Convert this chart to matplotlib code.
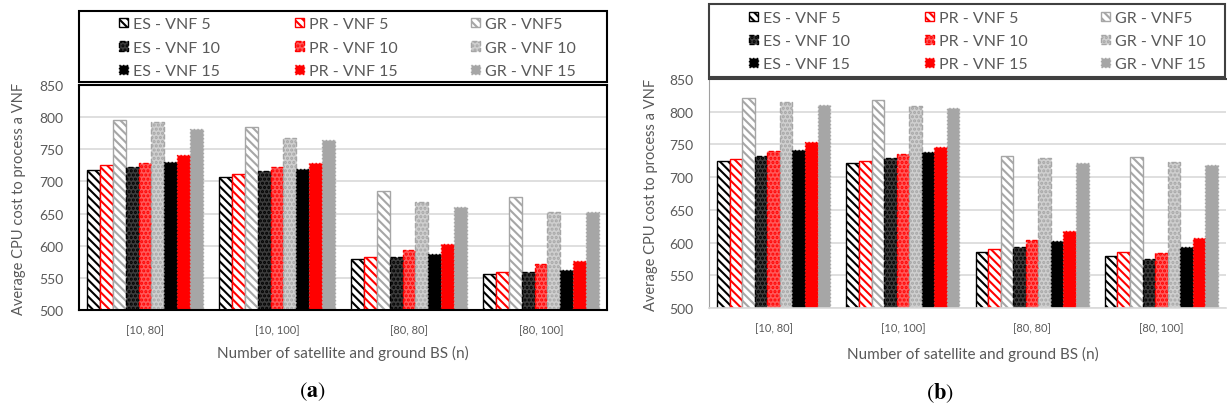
import numpy as np
import matplotlib
matplotlib.use("Agg")
import matplotlib.pyplot as plt
from matplotlib.patches import Patch, Rectangle

plt.rcParams['font.family'] = ['Lato', 'DejaVu Sans']
plt.rcParams['hatch.linewidth'] = 1.5
plt.rcParams['mathtext.fontset'] = 'stix'

categorias_a = ["[10, 80]", "[10, 100]", "[80, 80]", "[80, 100]"]
categorias_b = ["[10, 80]", "[10, 100]", "[80, 80]", "[80, 100]"]

series = ["ES - VNF 5", "PR - VNF 5", "GR - VNF5",
          "ES - VNF 10", "PR - VNF 10", "GR - VNF 10",
          "ES - VNF 15", "PR - VNF 15", "GR - VNF 15"]

# panel (a)
a_es5 = [718, 707, 579, 556]
a_pr5 = [726, 712, 582, 559]
a_gr5 = [796, 785, 685, 676]
a_es10 = [722, 717, 582, 559]
a_pr10 = [729, 723, 593, 572]
a_gr10 = [792, 767, 668, 653]
a_es15 = [731, 719, 587, 563]
a_pr15 = [741, 728, 602, 576]
a_gr15 = [782, 765, 660, 652]

# panel (b)
b_es5 = [725, 722, 586, 580]
b_pr5 = [728, 725, 590, 585]
b_gr5 = [821, 818, 732, 731]
b_es10 = [732, 730, 593, 575]
b_pr10 = [740, 736, 604, 584]
b_gr10 = [815, 809, 729, 723]
b_es15 = [741, 738, 602, 593]
b_pr15 = [753, 746, 617, 607]
b_gr15 = [811, 805, 722, 719]

datos_a = [a_es5, a_pr5, a_gr5, a_es10, a_pr10, a_gr10, a_es15, a_pr15, a_gr15]
datos_b = [b_es5, b_pr5, b_gr5, b_es10, b_pr10, b_gr10, b_es15, b_pr15, b_gr15]

GRIS = '#a6a6a6'
TXT = '#595959'
rayas = '\\\\\\\\'
estilos = [
    dict(facecolor='white', edgecolor='black', hatch=rayas, linestyle='-'),
    dict(facecolor='white', edgecolor='red', hatch=rayas, linestyle='-'),
    dict(facecolor='white', edgecolor=GRIS, hatch=rayas, linestyle='-'),
    dict(facecolor='#3c3c3c', edgecolor='black', hatch='....', linestyle='--'),
    dict(facecolor='#ff5a5a', edgecolor='red', hatch='....', linestyle='--'),
    dict(facecolor='#cfcfcf', edgecolor=GRIS, hatch='....', linestyle='--'),
    dict(facecolor='black', edgecolor='black', hatch=None, linestyle=':'),
    dict(facecolor='red', edgecolor='red', hatch=None, linestyle=':'),
    dict(facecolor=GRIS, edgecolor=GRIS, hatch=None, linestyle=':'),
]

W, H = 1227, 410
fig = plt.figure(figsize=(W / 100, H / 100), dpi=100)


def fx(px):
    return px / W


def fy(py):
    return 1 - py / H


def panel(ax, cats, datos, ancho=0.097):
    x = np.arange(len(cats))
    for i, vals in enumerate(datos):
        ax.bar(x + (i - 4) * ancho, np.array(vals) - 500, ancho, bottom=500,
               linewidth=1.0, zorder=3, **estilos[i])
    ax.set_xlim(-0.5, len(cats) - 0.5)
    ax.set_ylim(500, 850)
    ax.set_yticks(range(500, 851, 50))
    ax.set_xticks(x)
    ax.set_xticklabels(cats, fontsize=8, color=TXT)
    ax.tick_params(axis='y', length=0, labelsize=10, labelcolor=TXT, pad=11)
    ax.tick_params(axis='x', length=0, pad=10)
    ax.grid(axis='y', color='#d9d9d9', linewidth=1.2, zorder=0)
    ax.set_axisbelow(True)
    ax.set_ylabel("Average CPU cost to process a VNF", fontsize=10.5, color=TXT)
    ax.set_xlabel("Number of satellite and ground BS (n)", fontsize=11, color=TXT)
    for s in ax.spines.values():
        s.set_zorder(4)


def leyenda(x0, y0, fila):
    handles = [Patch(linewidth=1.0, **estilos[i], label=series[i]) for i in range(9)]
    for c in range(3):
        lg = fig.legend(handles=[handles[c], handles[c + 3], handles[c + 6]],
                        loc='upper left', bbox_to_anchor=(fx(x0 + c * 176), fy(y0)),
                        frameon=False, borderpad=0, borderaxespad=0, fontsize=11.5,
                        handlelength=0.55, handleheight=0.55, handletextpad=0.35,
                        labelspacing=fila)
        for t in lg.get_texts():
            t.set_color(TXT)


# (a)
ax1 = fig.add_axes([fx(79), fy(311), fx(528), 225 / H])
panel(ax1, categorias_a, datos_a)
for s in ax1.spines.values():
    s.set_color('black')
    s.set_linewidth(1.5)
ax1.yaxis.set_label_coords(-0.10, 0.5)
ax1.xaxis.set_label_coords(0.5, -0.155)
fig.patches.append(Rectangle((fx(79), fy(83)), fx(528), 71 / H, transform=fig.transFigure,
                             fill=False, edgecolor='black', linewidth=1.5))
leyenda(119, 18, 0.6)
fig.text(fx(312), fy(392), r'$(\mathbf{a})$', fontsize=16, ha='center', va='center')

# (b)
ax2 = fig.add_axes([fx(709), fy(309), fx(517), 229 / H])
panel(ax2, categorias_b, datos_b)
ax2.spines['right'].set_visible(False)
ax2.spines['top'].set_color('#404040')
ax2.spines['top'].set_linewidth(1.5)
ax2.spines['left'].set_color('#a0a0a0')
ax2.spines['bottom'].set_color('#d9d9d9')
ax2.spines['bottom'].set_linewidth(1.2)
ax2.yaxis.set_label_coords(-0.099, 0.5)
ax2.xaxis.set_label_coords(0.51, -0.165)
fig.patches.append(Rectangle((fx(709), fy(78)), fx(516), 73 / H, transform=fig.transFigure,
                             fill=False, edgecolor='#404040', linewidth=1.5))
leyenda(749, 12, 0.57)
fig.text(fx(940), fy(393), r'$(\mathbf{b})$', fontsize=16, ha='center', va='center')

fig.savefig("out.png", dpi=100)
